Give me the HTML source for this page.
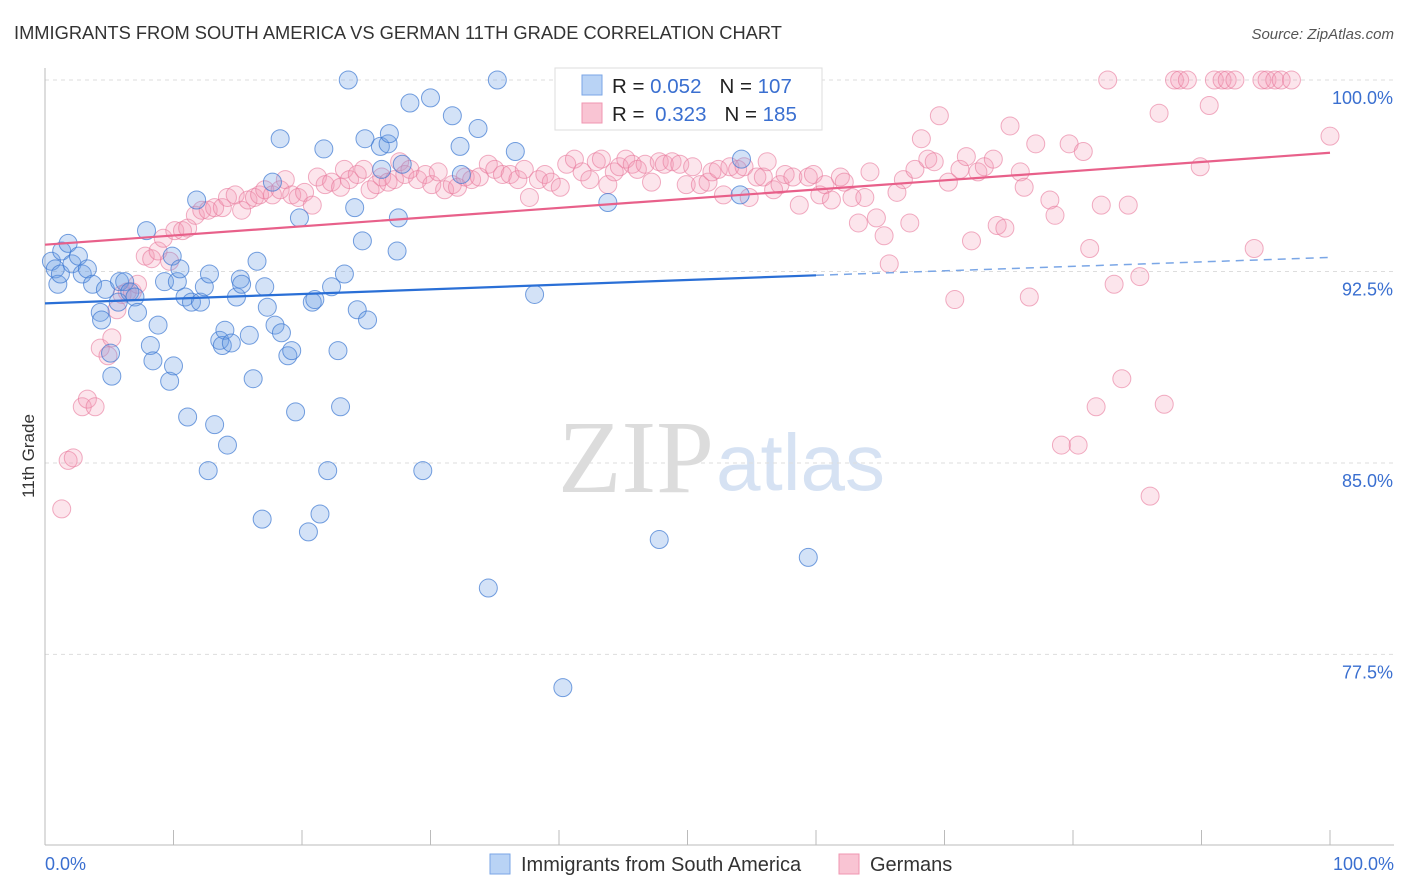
<!DOCTYPE html>
<html><head><meta charset="utf-8">
<style>
body{margin:0;background:#fff;font-family:"Liberation Sans",sans-serif;}
#wrap{position:relative;width:1406px;height:892px;overflow:hidden;}
</style></head>
<body>
<div id="wrap">
<svg id="chart" width="1406" height="892">
<text x="14" y="39" font-size="18.3" fill="#333">IMMIGRANTS FROM SOUTH AMERICA VS GERMAN 11TH GRADE CORRELATION CHART</text>
<text x="1394" y="39" font-size="15" fill="#555" font-style="italic" text-anchor="end">Source: ZipAtlas.com</text>
<text x="714" y="492" font-size="104" fill="#dcdcdc" text-anchor="end" font-family="Liberation Serif">ZIP</text>
<text x="716" y="490" font-size="80" fill="#d6e2f3">atlas</text>
<text transform="translate(34,456) rotate(-90)" font-size="17" fill="#333" text-anchor="middle">11th Grade</text>
<g id="grid"></g><g id="axes"></g><g id="pts"></g><g id="trend"></g>
<g>
<rect x="555" y="68" width="267" height="62" fill="#fff" stroke="#ddd"/>
<rect x="582" y="75" width="20" height="20" fill="#b9d3f5" stroke="#7aa6e6"/>
<rect x="582" y="103" width="20" height="20" fill="#f9c4d3" stroke="#f096b0"/>
<text x="612" y="93" font-size="20.5" fill="#222">R = <tspan fill="#3a6fd0">0.052</tspan><tspan dx="18">N = </tspan><tspan fill="#3a6fd0">107</tspan></text>
<text x="612" y="121" font-size="20.5" fill="#222">R = <tspan fill="#3a6fd0" dx="5">0.323</tspan><tspan dx="18">N = </tspan><tspan fill="#3a6fd0">185</tspan></text>
</g>
<g>
<rect x="490" y="854" width="20" height="20" fill="#b9d3f5" stroke="#7aa6e6"/>
<text x="521" y="871" font-size="20" fill="#333">Immigrants from South America</text>
<rect x="839" y="854" width="20" height="20" fill="#f9c4d3" stroke="#f096b0"/>
<text x="870" y="871" font-size="20" fill="#333">Germans</text>
</g>
</svg>
</div>
<script>
const yTicks=[100,92.5,85,77.5];
const yTickLabels=["100.0%","92.5%","85.0%","77.5%"];
const xTickLabels=["0.0%","100.0%"];
const blueX=[0.5,0.8,1.0,1.3,1.8,1.2,2.1,2.6,2.9,3.3,3.7,4.3,4.4,4.7,5.1,5.2,5.7,5.8,6.2,6.6,7.0,7.2,7.9,8.2,8.4,8.8,9.3,9.7,9.9,10.0,10.3,10.5,10.9,11.1,11.4,11.8,12.1,12.4,12.7,12.8,13.2,13.6,13.8,14.0,14.2,14.5,14.9,15.2,15.3,15.9,16.2,16.5,16.9,17.1,17.3,17.7,17.9,18.3,18.4,18.9,19.2,19.5,19.8,20.5,20.8,21.0,21.4,21.7,22.0,22.3,22.8,23.0,23.3,23.6,24.1,24.3,24.7,24.9,25.1,26.1,26.2,26.7,26.8,27.5,27.4,27.8,28.4,29.4,30.0,31.7,32.3,32.4,33.7,34.5,35.2,36.6,38.1,40.3,43.8,47.8,54.2,54.1,59.4];
const blueY=[92.9,92.6,92.0,93.3,93.6,92.4,92.8,93.1,92.4,92.6,92.0,90.9,90.6,91.8,89.3,88.4,91.3,92.1,92.1,91.7,91.5,90.9,94.1,89.6,89.0,90.4,92.1,88.2,93.1,88.8,92.1,92.6,91.5,86.8,91.3,95.3,91.3,91.9,84.7,92.4,86.5,89.8,89.6,90.2,85.7,89.7,91.5,92.2,92.0,90.0,88.3,92.9,82.8,91.9,91.1,96.0,90.4,97.7,90.1,89.2,89.4,87.0,94.6,82.3,91.3,91.4,83.0,97.3,84.7,91.9,89.4,87.2,92.4,100,95.0,91.0,93.7,97.7,90.6,97.4,96.5,97.5,97.9,94.6,93.3,96.7,99.1,84.7,99.3,98.6,97.4,96.3,98.1,80.1,100,97.2,91.6,76.2,95.2,82.0,96.9,95.5,81.3];
const pinkX=[1.3,1.8,2.2,2.9,3.3,3.9,4.3,4.9,5.2,5.6,6.0,6.4,6.8,7.2,7.8,8.3,8.8,9.2,9.7,10.1,10.7,11.1,11.7,12.2,12.7,13.2,13.8,14.2,14.8,15.3,15.8,16.3,16.7,17.1,17.7,18.3,18.7,19.2,19.7,20.2,20.8,21.2,21.8,22.3,23.0,23.3,23.7,24.3,24.8,25.3,25.8,26.2,26.7,27.2,27.6,28.0,28.4,29.0,29.6,30.1,30.6,31.1,31.7,32.1,32.7,33.2,33.8,34.5,35.0,35.6,36.2,36.8,37.3,37.7,38.4,38.9,39.4,40.1,40.6,41.2,41.8,42.4,42.9,43.3,43.8,44.3,44.7,45.2,45.7,46.1,46.7,47.2,47.8,48.2,48.8,49.4,49.9,50.4,51.0,51.6,51.9,52.4,52.8,53.3,53.9,54.4,54.8,55.4,55.9,56.2,56.7,57.2,57.6,58.2,58.7,59.4,59.8,60.3,60.7,61.2,61.9,62.2,62.8,63.3,63.8,64.2,64.7,65.3,65.7,66.3,66.8,67.3,67.7,68.2,68.7,69.2,69.6,70.3,70.8,71.2,71.7,72.1,72.6,73.1,73.8,74.1,74.7,75.1,75.9,76.2,76.6,77.1,78.2,78.6,79.1,79.7,80.4,80.8,81.3,81.8,82.2,82.7,83.2,83.8,84.3,85.2,86.0,86.7,87.1,87.9,88.3,88.9,89.9,90.6,91.0,91.6,92.0,92.6,94.1,94.7,95.1,95.7,96.2,97.0,100];
const pinkY=[83.2,85.1,85.2,87.2,87.5,87.2,89.5,89.2,89.9,91.0,91.6,91.7,91.7,92.0,93.1,93.0,93.3,93.8,92.9,94.1,94.1,94.2,94.7,94.9,94.9,95.0,95.0,95.4,95.5,94.9,95.3,95.4,95.5,95.7,95.5,95.7,96.1,95.5,95.4,95.6,95.1,96.2,95.9,96.0,95.8,96.5,96.1,96.3,96.5,95.7,95.9,96.2,96.0,96.1,96.8,96.3,96.5,96.1,96.3,95.9,96.4,95.7,95.9,95.8,96.2,96.1,96.2,96.7,96.5,96.3,96.3,96.1,96.5,95.4,96.1,96.3,96.0,95.8,96.7,96.9,96.4,96.1,96.8,96.9,95.9,96.4,96.6,96.9,96.7,96.5,96.7,96.0,96.8,96.7,96.8,96.7,95.9,96.6,95.9,96.0,96.4,96.5,95.5,96.6,96.5,96.6,95.4,96.2,96.2,96.8,95.7,95.9,96.3,96.2,95.1,96.2,96.3,95.5,95.9,95.3,96.2,96.0,95.4,94.4,95.4,96.4,94.6,93.9,92.8,95.6,96.1,94.4,96.5,97.7,96.9,96.8,98.6,96.0,91.4,96.5,97.0,93.7,96.4,96.6,96.9,94.3,94.2,98.2,96.4,95.8,91.5,97.5,95.3,94.7,85.7,97.5,85.7,97.2,93.4,87.2,95.1,100,92.0,88.3,95.1,92.3,83.7,98.7,87.3,100,100,100,96.6,99.0,100,100,100,100,93.4,100,100,100,100,100,97.8];
const blueTrendX=[0,60,100];
const blueTrendY=[91.25,92.35,93.05];
const pinkTrendX=[0,100];
const pinkTrendY=[93.55,97.15];

const NS="http://www.w3.org/2000/svg";
const X0=45,X1=1330,YTOP=80;
const PXPER=25.53;
function sx(v){return X0+(X1-X0)*v/100;}
function sy(v){return YTOP+(100-v)*PXPER;}
function mk(tag,attrs,parent){const e=document.createElementNS(NS,tag);for(const k in attrs)e.setAttribute(k,attrs[k]);parent.appendChild(e);return e;}
const grid=document.getElementById('grid'),axes=document.getElementById('axes'),pts=document.getElementById('pts'),trend=document.getElementById('trend');
yTicks.forEach((t,i)=>{
  const l=mk('line',{x1:45,x2:1394,y1:sy(t),y2:sy(t),stroke:'#ddd','stroke-dasharray':'4,4'},grid);
  
  
  const tx=mk('text',{x:1393,y:sy(t)+24,'font-size':18,fill:'#3a6fd0','text-anchor':'end'},grid);
  tx.textContent=yTickLabels[i];
  
  
});
const ya=mk('line',{x1:45,x2:45,y1:68,y2:845,stroke:'#bbb'},axes);


const xa=mk('line',{x1:45,x2:1394,y1:845,y2:845,stroke:'#bbb'},axes);


for(let i=0;i<=10;i++){
  const t=mk('line',{x1:sx(i*10),x2:sx(i*10),y1:830,y2:845,stroke:'#bbb'},axes);
  
  
}
[[0,'start',45],[100,'end',1394]].forEach((d,i)=>{
  const t=mk('text',{x:d[2],y:870,'font-size':18,fill:'#3a6fd0','text-anchor':d[1]},axes);
  t.textContent=xTickLabels[i];
  
  
});
function dots(xs,ys,fill,stroke,name){
  xs.forEach((v,i)=>{
    const c=mk('circle',{cx:sx(v),cy:sy(ys[i]),r:9,fill:fill,stroke:stroke,'stroke-width':1},pts);
    
    
  });
}
dots(pinkX,pinkY,'rgba(244,150,178,0.25)','rgba(232,120,155,0.6)','german-point');
dots(blueX,blueY,'rgba(110,160,230,0.3)','rgba(60,120,210,0.7)','south-america-point');
const bt1=mk('line',{x1:sx(blueTrendX[0]),y1:sy(blueTrendY[0]),x2:sx(blueTrendX[1]),y2:sy(blueTrendY[1]),stroke:'#2a6fd6','stroke-width':2.2},trend);


const bt2=mk('line',{x1:sx(blueTrendX[1]),y1:sy(blueTrendY[1]),x2:sx(blueTrendX[2]),y2:sy(blueTrendY[2]),stroke:'#7aa6e6','stroke-width':1.5,'stroke-dasharray':'8,6'},trend);


const pt=mk('line',{x1:sx(pinkTrendX[0]),y1:sy(pinkTrendY[0]),x2:sx(pinkTrendX[1]),y2:sy(pinkTrendY[1]),stroke:'#e8608a','stroke-width':2.2},trend);


</script>
</body></html>
